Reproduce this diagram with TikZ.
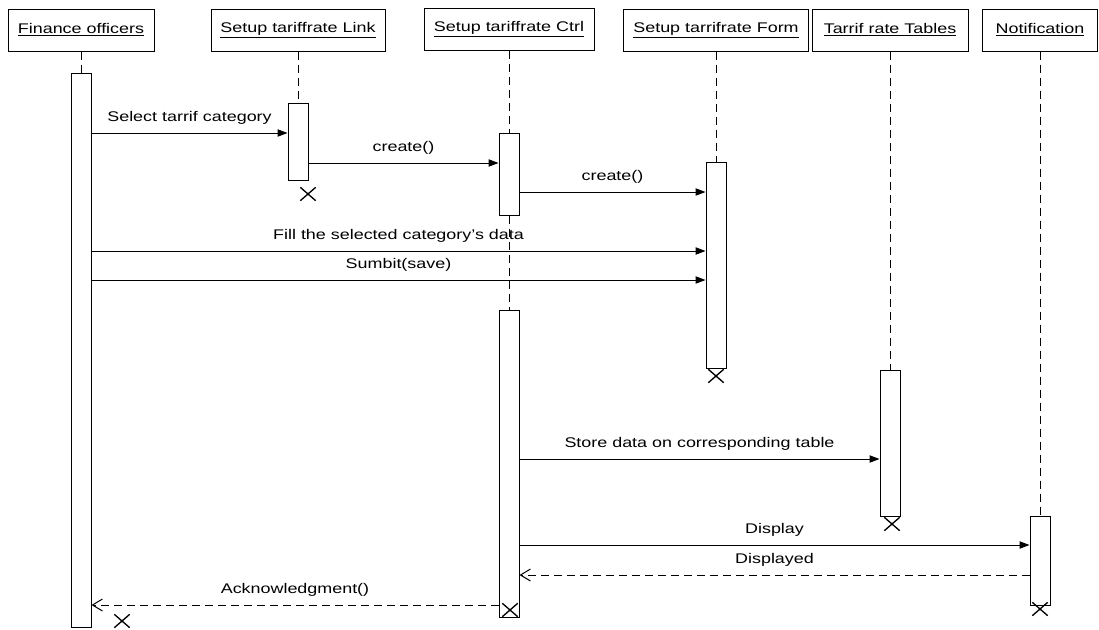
\documentclass[tikz,border=0pt]{standalone}
\usepackage{fontspec}
\setmainfont{Liberation Sans}[FakeStretch=1.28]
\usepackage{tikz}
\usetikzlibrary{arrows.meta,shapes.misc}

\begin{document}
\begin{tikzpicture}[x=0.75pt, y=-0.75pt, line width=0.75pt,
  every node/.style={font=\fontsize{10.5}{12}\selectfont},
  head/.style={draw, minimum height=31.5pt, inner sep=0pt},
  actbar/.style={draw, fill=white, inner sep=0pt, minimum width=15pt},
  life/.style={dash pattern=on 6pt off 3.75pt},
  msg/.style={-{Triangle[length=7.5pt,width=5.5pt]}},
  ret/.style={dash pattern=on 6pt off 3.75pt, -{Straight Barb[length=7.5pt,width=9pt]}},
  lbl/.style={anchor=base, yshift=9pt, inner sep=0pt},
  kill/.style={cross out, draw, line width=1pt, minimum width=10.5pt, minimum height=9pt, inner sep=0pt}]
\useasboundingbox (0,0) rectangle (1099,629);
\node[head, minimum width=109.5pt] (fin) at (81,30) {\underline{Finance officers}};
\node[head, minimum width=130.5pt] (lnk) at (298,30) {\underline{Setup tariffrate Link}};
\node[head, minimum width=127.5pt] (ctl) at (509,29) {\underline{Setup tariffrate Ctrl}};
\node[head, minimum width=138.75pt] (frm) at (716,30) {\underline{Setup tarrifrate Form}};
\node[head, minimum width=117pt] (tbl) at (890,30) {\underline{Tarrif rate Tables}};
\node[head, minimum width=86.25pt] (ntf) at (1040,30) {\underline{Notification}};
\node[actbar, minimum height=415.5pt] (finbar) at (fin |- 0,350) {};
\node[actbar, minimum height=57.75pt] (lnkbar) at (lnk |- 0,141.5) {};
\node[actbar, minimum height=61.5pt] (ctlbar1) at (ctl |- 0,174) {};
\node[actbar, minimum height=230.25pt] (ctlbar2) at (ctl |- 0,463.5) {};
\node[actbar, minimum height=154.5pt] (frmbar) at (frm |- 0,265) {};
\node[actbar, minimum height=109.5pt] (tblbar) at (tbl |- 0,443) {};
\node[actbar, minimum height=66.75pt] (ntfbar) at (ntf |- 0,560.5) {};
\draw[life] (fin) -- (finbar); \draw[life] (lnk) -- (lnkbar);
\draw[life] (ctl) -- (ctlbar1); \draw[life] (ctlbar1) -- (ctlbar2);
\draw[life] (frm) -- (frmbar); \draw[life] (tbl) -- (tblbar); \draw[life] (ntf) -- (ntfbar);
\draw[msg] (finbar.east |- 0,133) -- node[lbl] {Select tarrif category} (lnkbar.west |- 0,133);
\draw[msg] (lnkbar.east |- 0,163) -- node[lbl] {create()} (ctlbar1.west |- 0,163);
\draw[msg] (ctlbar1.east |- 0,192) -- node[lbl] {create()} (frmbar.west |- 0,192);
\draw[msg] (finbar.east |- 0,251) -- node[lbl] {Fill the selected category's data} (frmbar.west |- 0,251);
\draw[msg] (finbar.east |- 0,280) -- node[lbl] {Sumbit(save)} (frmbar.west |- 0,280);
\draw[msg] (ctlbar2.east |- 0,459) -- node[lbl] {Store data on corresponding table} (tblbar.west |- 0,459);
\draw[msg] (ctlbar2.east |- 0,545) -- node[lbl] {Display} (ntfbar.west |- 0,545);
\draw[ret] (ntfbar.west |- 0,575) -- node[lbl] {Displayed} (ctlbar2.east |- 0,575);
\draw[ret] (ctlbar2.west |- 0,605) -- node[lbl] {Acknowledgment()} (finbar.east |- 0,605);
\node[kill] (finx) at (122,621) {};
\node[kill] (lnkx) at (308,194) {};
\node[kill] (ctlx) at (510,610) {};
\node[kill] (frmx) at (716,376) {};
\node[kill] (tblx) at (892,524) {};
\node[kill] (ntfx) at (1040,609) {};
\end{tikzpicture}
\end{document}
